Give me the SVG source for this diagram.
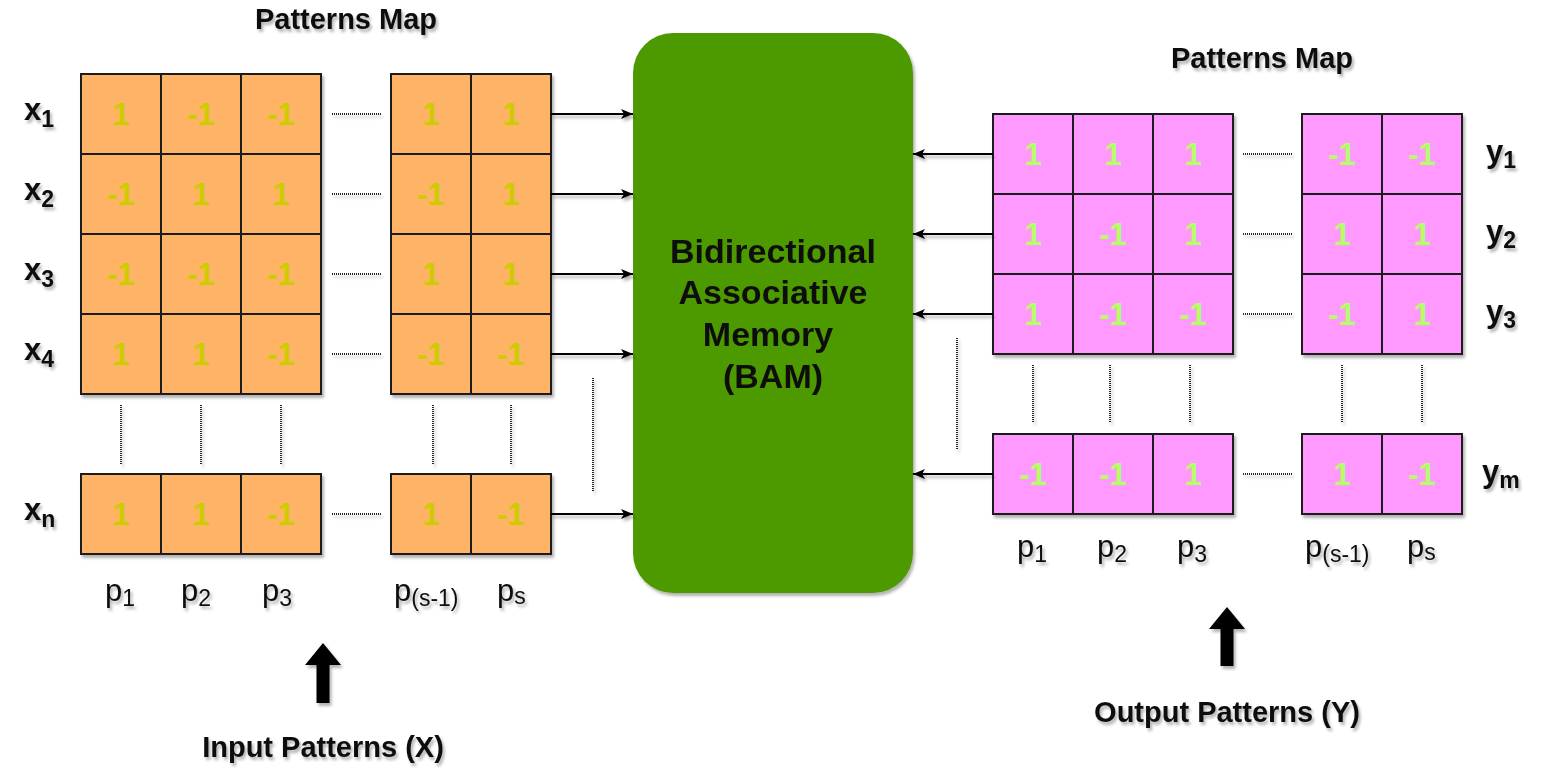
<svg xmlns="http://www.w3.org/2000/svg" width="1556" height="777" viewBox="0 0 1556 777">
<style>
.bg{fill:#ffffff}
.co{fill:#FFB366;stroke:#1a1a1a;stroke-width:2}
.cp{fill:#FF99FF;stroke:#1a1a1a;stroke-width:2}
.no{font-family:"Liberation Sans",Arial,sans-serif;font-weight:bold;font-size:31px;fill:#CCCC00;text-anchor:middle}
.np{font-family:"Liberation Sans",Arial,sans-serif;font-weight:bold;font-size:31px;fill:#B3FF66;text-anchor:middle}
.lb{font-family:"Liberation Sans",Arial,sans-serif;font-weight:bold;font-size:31px;fill:#111}
.pl{font-family:"Liberation Sans",Arial,sans-serif;font-size:31px;fill:#111}
.sb{font-size:23px}
.ti{font-family:"Liberation Sans",Arial,sans-serif;font-weight:bold;font-size:29px;fill:#111;text-anchor:middle}
.bam{font-family:"Liberation Sans",Arial,sans-serif;font-weight:bold;font-size:34px;fill:#111;text-anchor:middle}
.dot{stroke:#222;stroke-width:2;stroke-dasharray:1 1;fill:none}
.ar{stroke:#000;stroke-width:2;fill:none}
</style>
<defs>
<filter id="sh" x="-10%" y="-10%" width="130%" height="130%">
<feDropShadow dx="2" dy="3" stdDeviation="1.5" flood-color="#000" flood-opacity="0.3"/>
</filter>
<marker id="ah" viewBox="0 0 12 10" refX="12" refY="5" markerWidth="12" markerHeight="10" markerUnits="userSpaceOnUse" orient="auto">
<path d="M0,0 L12,5 L0,10 L3,5 Z" fill="#000"/>
</marker>
</defs>
<rect class="bg" x="0" y="0" width="1556" height="777"/>

<g id="title-left" filter="url(#sh)"><text class="ti" x="346" y="29">Patterns Map</text></g>
<g id="title-right" filter="url(#sh)"><text class="ti" x="1262" y="68">Patterns Map</text></g>

<g id="input-grid" filter="url(#sh)">
<rect class="co" x="81" y="74" width="80" height="80"/><rect class="co" x="161" y="74" width="80" height="80"/><rect class="co" x="241" y="74" width="80" height="80"/>
<rect class="co" x="391" y="74" width="80" height="80"/><rect class="co" x="471" y="74" width="80" height="80"/>
<rect class="co" x="81" y="154" width="80" height="80"/><rect class="co" x="161" y="154" width="80" height="80"/><rect class="co" x="241" y="154" width="80" height="80"/>
<rect class="co" x="391" y="154" width="80" height="80"/><rect class="co" x="471" y="154" width="80" height="80"/>
<rect class="co" x="81" y="234" width="80" height="80"/><rect class="co" x="161" y="234" width="80" height="80"/><rect class="co" x="241" y="234" width="80" height="80"/>
<rect class="co" x="391" y="234" width="80" height="80"/><rect class="co" x="471" y="234" width="80" height="80"/>
<rect class="co" x="81" y="314" width="80" height="80"/><rect class="co" x="161" y="314" width="80" height="80"/><rect class="co" x="241" y="314" width="80" height="80"/>
<rect class="co" x="391" y="314" width="80" height="80"/><rect class="co" x="471" y="314" width="80" height="80"/>
<rect class="co" x="81" y="474" width="80" height="80"/><rect class="co" x="161" y="474" width="80" height="80"/><rect class="co" x="241" y="474" width="80" height="80"/>
<rect class="co" x="391" y="474" width="80" height="80"/><rect class="co" x="471" y="474" width="80" height="80"/>
</g>
<g id="input-values">
<text class="no" x="121" y="125">1</text><text class="no" x="201" y="125">-1</text><text class="no" x="281" y="125">-1</text><text class="no" x="431" y="125">1</text><text class="no" x="511" y="125">1</text>
<text class="no" x="121" y="205">-1</text><text class="no" x="201" y="205">1</text><text class="no" x="281" y="205">1</text><text class="no" x="431" y="205">-1</text><text class="no" x="511" y="205">1</text>
<text class="no" x="121" y="285">-1</text><text class="no" x="201" y="285">-1</text><text class="no" x="281" y="285">-1</text><text class="no" x="431" y="285">1</text><text class="no" x="511" y="285">1</text>
<text class="no" x="121" y="365">1</text><text class="no" x="201" y="365">1</text><text class="no" x="281" y="365">-1</text><text class="no" x="431" y="365">-1</text><text class="no" x="511" y="365">-1</text>
<text class="no" x="121" y="525">1</text><text class="no" x="201" y="525">1</text><text class="no" x="281" y="525">-1</text><text class="no" x="431" y="525">1</text><text class="no" x="511" y="525">-1</text>
</g>

<g id="output-grid" filter="url(#sh)">
<rect class="cp" x="993" y="114" width="80" height="80"/><rect class="cp" x="1073" y="114" width="80" height="80"/><rect class="cp" x="1153" y="114" width="80" height="80"/>
<rect class="cp" x="1302" y="114" width="80" height="80"/><rect class="cp" x="1382" y="114" width="80" height="80"/>
<rect class="cp" x="993" y="194" width="80" height="80"/><rect class="cp" x="1073" y="194" width="80" height="80"/><rect class="cp" x="1153" y="194" width="80" height="80"/>
<rect class="cp" x="1302" y="194" width="80" height="80"/><rect class="cp" x="1382" y="194" width="80" height="80"/>
<rect class="cp" x="993" y="274" width="80" height="80"/><rect class="cp" x="1073" y="274" width="80" height="80"/><rect class="cp" x="1153" y="274" width="80" height="80"/>
<rect class="cp" x="1302" y="274" width="80" height="80"/><rect class="cp" x="1382" y="274" width="80" height="80"/>
<rect class="cp" x="993" y="434" width="80" height="80"/><rect class="cp" x="1073" y="434" width="80" height="80"/><rect class="cp" x="1153" y="434" width="80" height="80"/>
<rect class="cp" x="1302" y="434" width="80" height="80"/><rect class="cp" x="1382" y="434" width="80" height="80"/>
</g>
<g id="output-values">
<text class="np" x="1033" y="165">1</text><text class="np" x="1113" y="165">1</text><text class="np" x="1193" y="165">1</text><text class="np" x="1342" y="165">-1</text><text class="np" x="1422" y="165">-1</text>
<text class="np" x="1033" y="245">1</text><text class="np" x="1113" y="245">-1</text><text class="np" x="1193" y="245">1</text><text class="np" x="1342" y="245">1</text><text class="np" x="1422" y="245">1</text>
<text class="np" x="1033" y="325">1</text><text class="np" x="1113" y="325">-1</text><text class="np" x="1193" y="325">-1</text><text class="np" x="1342" y="325">-1</text><text class="np" x="1422" y="325">1</text>
<text class="np" x="1033" y="485">-1</text><text class="np" x="1113" y="485">-1</text><text class="np" x="1193" y="485">1</text><text class="np" x="1342" y="485">1</text><text class="np" x="1422" y="485">-1</text>
</g>

<g id="bam" filter="url(#sh)">
<rect x="633" y="33" width="280" height="560" rx="40" ry="40" fill="#4D9900"/>
<text class="bam" x="773" y="263">Bidirectional</text>
<text class="bam" x="773" y="304">Associative</text>
<text class="bam" x="768" y="346">Memory</text>
<text class="bam" x="773" y="388">(BAM)</text>
</g>

<g id="row-labels" filter="url(#sh)">
<text class="lb" x="24" y="120">x<tspan class="sb" dy="7">1</tspan></text>
<text class="lb" x="24" y="200">x<tspan class="sb" dy="7">2</tspan></text>
<text class="lb" x="24" y="280">x<tspan class="sb" dy="7">3</tspan></text>
<text class="lb" x="24" y="360">x<tspan class="sb" dy="7">4</tspan></text>
<text class="lb" x="24" y="520">x<tspan class="sb" dy="7">n</tspan></text>
<text class="lb" x="1486" y="162">y<tspan class="sb" dy="6">1</tspan></text>
<text class="lb" x="1486" y="242">y<tspan class="sb" dy="6">2</tspan></text>
<text class="lb" x="1486" y="322">y<tspan class="sb" dy="6">3</tspan></text>
<text class="lb" x="1482" y="482">y<tspan class="sb" dy="6">m</tspan></text>
</g>

<g id="col-labels" filter="url(#sh)">
<text class="pl" x="105" y="601">p<tspan class="sb" dy="5">1</tspan></text>
<text class="pl" x="181" y="601">p<tspan class="sb" dy="5">2</tspan></text>
<text class="pl" x="262" y="601">p<tspan class="sb" dy="5">3</tspan></text>
<text class="pl" x="394" y="601">p<tspan class="sb" dy="5">(s-1)</tspan></text>
<text class="pl" x="497" y="601">p<tspan class="sb" dy="3">s</tspan></text>
<text class="pl" x="1017" y="557">p<tspan class="sb" dy="5">1</tspan></text>
<text class="pl" x="1097" y="557">p<tspan class="sb" dy="5">2</tspan></text>
<text class="pl" x="1177" y="557">p<tspan class="sb" dy="5">3</tspan></text>
<text class="pl" x="1305" y="557">p<tspan class="sb" dy="5">(s-1)</tspan></text>
<text class="pl" x="1407" y="557">p<tspan class="sb" dy="3">s</tspan></text>
</g>

<g id="input-arrow" filter="url(#sh)">
<path d="M323,643 L341,665 L329.5,665 L329.5,703 L316.5,703 L316.5,665 L305,665 Z" fill="#000"/>
<text class="ti" x="323" y="757">Input Patterns (X)</text>
</g>
<g id="output-arrow" filter="url(#sh)">
<path d="M1227,607 L1245,629 L1233.5,629 L1233.5,666 L1220.5,666 L1220.5,629 L1209,629 Z" fill="#000"/>
<text class="ti" x="1227" y="722">Output Patterns (Y)</text>
</g>

<g id="dots" filter="url(#sh)">
<line class="dot" x1="332" y1="114" x2="382" y2="114"/>
<line class="dot" x1="332" y1="194" x2="382" y2="194"/>
<line class="dot" x1="332" y1="274" x2="382" y2="274"/>
<line class="dot" x1="332" y1="354" x2="382" y2="354"/>
<line class="dot" x1="332" y1="514" x2="382" y2="514"/>
<line class="dot" x1="121" y1="405" x2="121" y2="465"/>
<line class="dot" x1="201" y1="405" x2="201" y2="465"/>
<line class="dot" x1="281" y1="405" x2="281" y2="465"/>
<line class="dot" x1="433" y1="405" x2="433" y2="465"/>
<line class="dot" x1="511" y1="405" x2="511" y2="465"/>
<line class="dot" x1="593" y1="378" x2="593" y2="492"/>
<line class="dot" x1="1243" y1="154" x2="1293" y2="154"/>
<line class="dot" x1="1243" y1="234" x2="1293" y2="234"/>
<line class="dot" x1="1243" y1="314" x2="1293" y2="314"/>
<line class="dot" x1="1243" y1="474" x2="1293" y2="474"/>
<line class="dot" x1="1033" y1="365" x2="1033" y2="423"/>
<line class="dot" x1="1110" y1="365" x2="1110" y2="423"/>
<line class="dot" x1="1190" y1="365" x2="1190" y2="423"/>
<line class="dot" x1="1342" y1="365" x2="1342" y2="423"/>
<line class="dot" x1="1422" y1="365" x2="1422" y2="423"/>
<line class="dot" x1="957" y1="338" x2="957" y2="450"/>
</g>

<g id="connectors" filter="url(#sh)">
<line class="ar" x1="551" y1="114" x2="633" y2="114" marker-end="url(#ah)"/>
<line class="ar" x1="551" y1="194" x2="633" y2="194" marker-end="url(#ah)"/>
<line class="ar" x1="551" y1="274" x2="633" y2="274" marker-end="url(#ah)"/>
<line class="ar" x1="551" y1="354" x2="633" y2="354" marker-end="url(#ah)"/>
<line class="ar" x1="551" y1="514" x2="633" y2="514" marker-end="url(#ah)"/>
<line class="ar" x1="993" y1="154" x2="913" y2="154" marker-end="url(#ah)"/>
<line class="ar" x1="993" y1="234" x2="913" y2="234" marker-end="url(#ah)"/>
<line class="ar" x1="993" y1="314" x2="913" y2="314" marker-end="url(#ah)"/>
<line class="ar" x1="993" y1="474" x2="913" y2="474" marker-end="url(#ah)"/>
</g>
</svg>
